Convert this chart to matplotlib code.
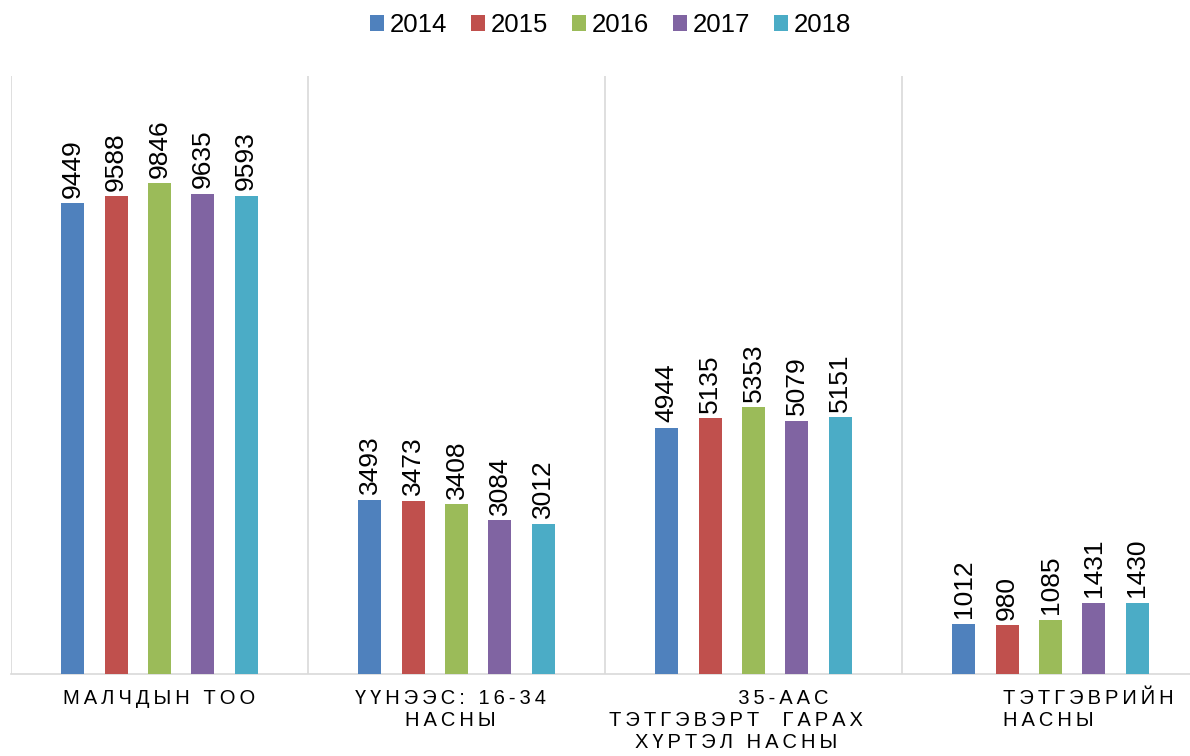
import matplotlib
matplotlib.use("Agg")
from matplotlib import pyplot as plt
import numpy as np

# data
years = ["2014", "2015", "2016", "2017", "2018"]
categories = ["МАЛЧДЫН ТОО",
              "ҮҮНЭЭС: 16-34\nНАСНЫ",
              "          35-ААС\nТЭТГЭВЭРТ  ГАРАХ\nХҮРТЭЛ НАСНЫ",
              "ТЭТГЭВРИЙН\nНАСНЫ"]
v2014 = [9449, 3493, 4944, 1012]
v2015 = [9588, 3473, 5135, 980]
v2016 = [9846, 3408, 5353, 1085]
v2017 = [9635, 3084, 5079, 1431]
v2018 = [9593, 3012, 5151, 1430]
series = [v2014, v2015, v2016, v2017, v2018]
colors = ["#4F81BD", "#C0504D", "#9BBB59", "#8064A2", "#4BACC6"]

plt.rcParams["font.family"] = ["Liberation Sans", "DejaVu Sans"]

fig = plt.figure(figsize=(11.9, 7.56), dpi=100)
ax = fig.add_axes([11 / 1190, 82 / 756, 1188 / 1190, 598 / 756])

x = np.arange(len(categories))
step = 0.146
width = 0.078
for i, (vals, col, yr) in enumerate(zip(series, colors, years)):
    pos = x + (i - 2) * step
    bars = ax.bar(pos, vals, width=width, color=col, label=yr, zorder=3)
    for b, v in zip(bars, vals):
        ax.annotate(str(v), (b.get_x() + b.get_width() / 2, v),
                    xytext=(0, 4), textcoords="offset points",
                    rotation=90, ha="center", va="bottom", fontsize=19)

ax.set_xlim(-0.5, 3.5)
ax.set_ylim(0, 12000)
ax.set_yticks([])
ax.set_xticks([])
for b in np.arange(-0.5, 3.6, 1):
    ax.axvline(b, color="#D9D9D9", lw=1.2, zorder=1)
for s in ["top", "right", "left"]:
    ax.spines[s].set_visible(False)
ax.spines["bottom"].set_color("#D9D9D9")
ax.spines["bottom"].set_linewidth(1.2)


def spaced(s):
    # letter spacing like the original axis labels
    return "\n".join("\u2009".join(line) for line in s.split("\n"))


label_x = [0.0, 0.98, 1.94, 2.84]
label_ha = ["center", "center", "center", "left"]
for cx, lab, ha in zip(label_x, categories, label_ha):
    ax.text(cx, -0.025, spaced(lab), transform=ax.get_xaxis_transform(),
            ha=ha, va="top", multialignment=ha, fontsize=14.5,
            linespacing=1.2, color="#000000")

fig.legend(loc="upper center", bbox_to_anchor=(0.513, 1.013), ncol=5,
           frameon=False, fontsize=18.5, handlelength=0.55, handleheight=0.55,
           handletextpad=0.2, columnspacing=0.95)

plt.savefig("out.png", dpi=100)
